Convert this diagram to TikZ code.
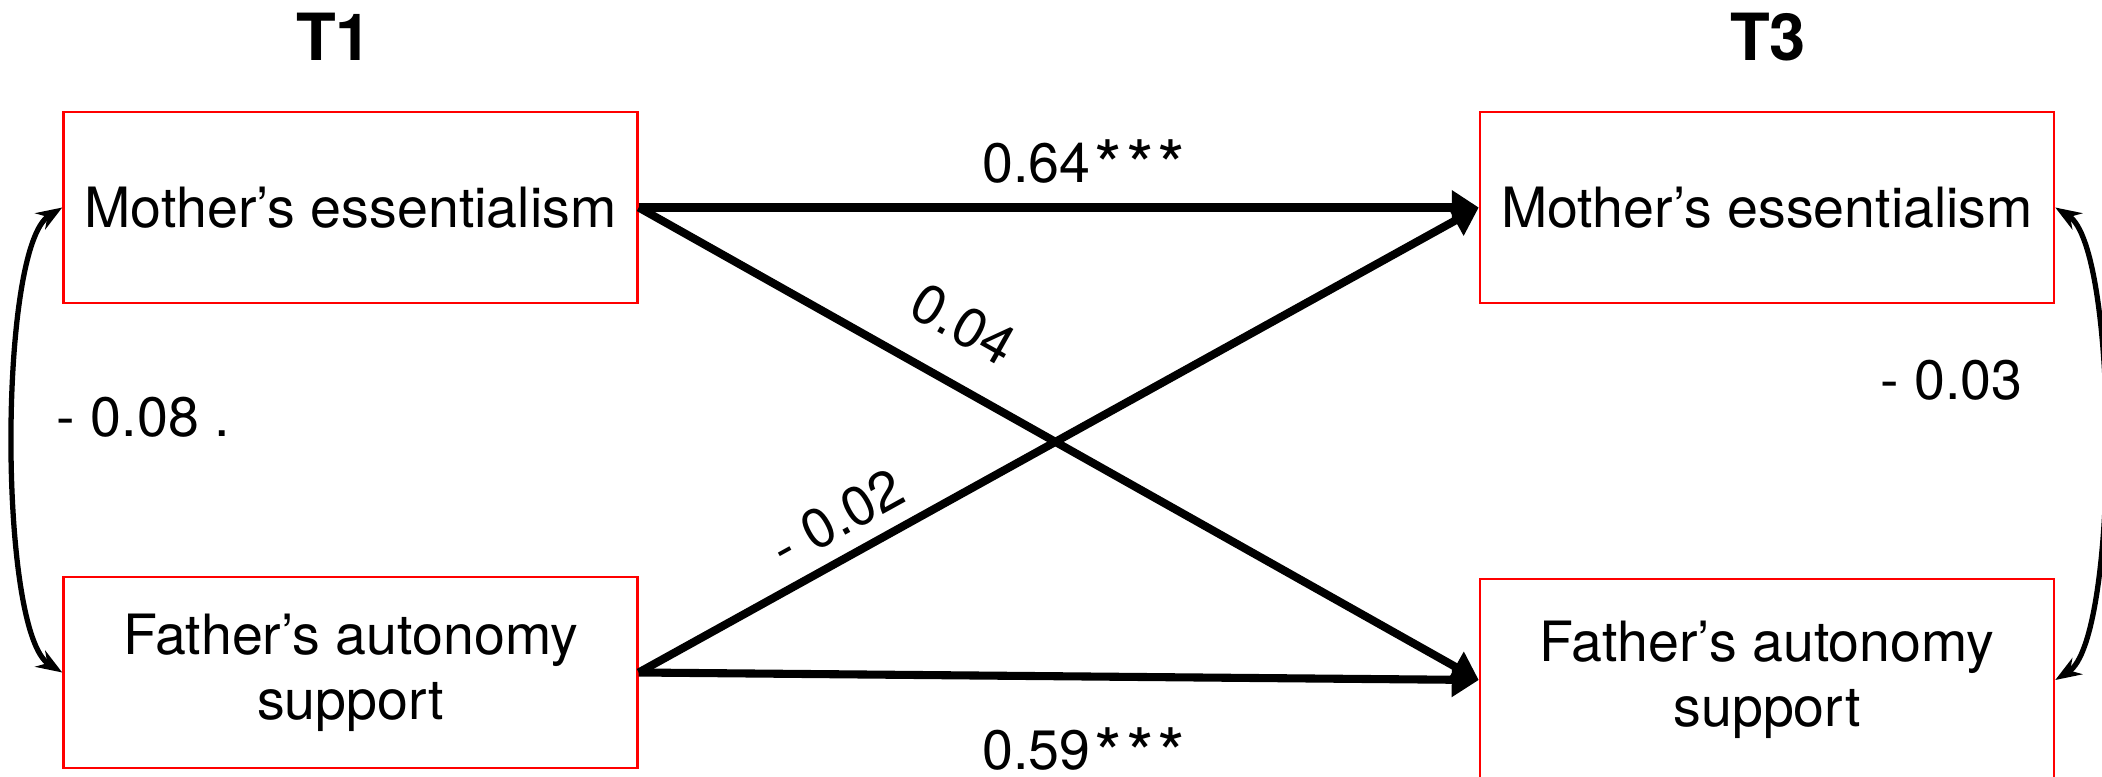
\documentclass[tikz,border=0pt]{standalone}
\usepackage{fontspec}
\setmainfont{TeX Gyre Heros}
\usetikzlibrary{arrows.meta}

\newcommand{\sigast}{\kern0.07em\raisebox{-0.17em}{\scalebox{1.28}{*}}}

\tikzset{
  varbox/.style={draw=red, line width=0.7pt, minimum width=5.74cm, minimum height=1.91cm,
    inner sep=0pt, align=center, font=\fontsize{15.8}{18.5}\selectfont},
  coef/.style={inner sep=0pt, font=\fontsize{15.8}{18.5}\selectfont},
  timept/.style={inner sep=0pt, font=\fontsize{18.5}{20}\selectfont\bfseries},
  pathline/.style={line width=2.3pt, -{Triangle[length=0.27cm, width=0.33cm]}},
  corrline/.style={line width=1.5pt, {Stealth[length=0.26cm, width=0.19cm]}-{Stealth[length=0.26cm, width=0.19cm]}}
}

\begin{document}
\begin{tikzpicture}
  \useasboundingbox (0,0) rectangle (21.02,-7.77);
  \clip (0,0) rectangle (21.02,-7.77);

  \node[timept] (t1) at (3.34,-0.37) {T1};
  \node[timept] (t3) at (17.68,-0.37) {T3};

  \node[varbox] (me1) at (3.505,-2.075) {Mother’s essentialism};
  \node[varbox] (fa1) at (3.505,-6.725) {Father’s autonomy\\support};
  \node[varbox] (me3) at (17.67,-2.075) {Mother’s essentialism};
  \node[varbox, minimum height=2.02cm] (fa3) at (17.67,-6.8) {Father’s autonomy\\support};

  \draw[pathline] (me1.east) -- (me3.west) node[coef, pos=0.53, above=0.12cm] {0.64\sigast\sigast\sigast};
  \draw[pathline] (me1.east) -- (fa3.west) node[coef, pos=0.353, sloped, above=0.33cm] {0.04};
  \draw[pathline] (fa1.east) -- (me3.west) node[coef, pos=0.259, sloped, above=0.15cm] {- 0.02};
  \draw[pathline] (fa1.east) -- (fa3.west) node[coef, pos=0.53, below=0.47cm] {0.59\sigast\sigast\sigast};

  \draw[corrline] (me1.west) .. controls +(-0.64,-0.4) and +(-0.64,0.4) .. (fa1.west)
    node[coef, pos=0.5, anchor=west, xshift=0.4cm, yshift=0.23cm] {- 0.08 .};
  \draw[corrline] (me3.east) .. controls +(0.64,-0.4) and +(0.64,0.4) .. (fa3.east)
    node[coef, pos=0.5, anchor=east, xshift=-0.78cm, yshift=0.64cm] {- 0.03};
\end{tikzpicture}
\end{document}
